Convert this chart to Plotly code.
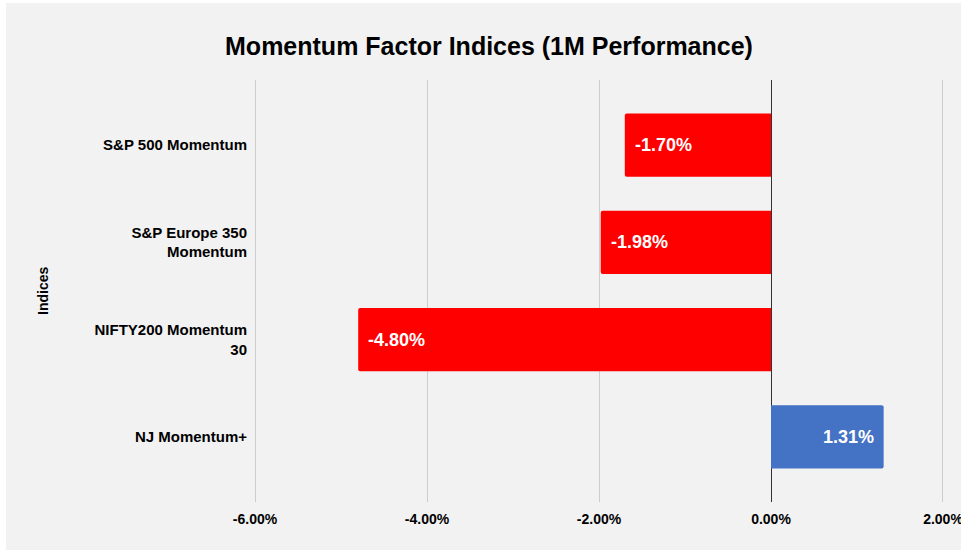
import plotly.graph_objects as go

categories = ["S&P 500 Momentum", "S&P Europe 350<br>Momentum", "NIFTY200 Momentum<br>30", "NJ Momentum+"]
values = [-1.70, -1.98, -4.80, 1.31]
bar_colors = ["#ff0000", "#ff0000", "#ff0000", "#4472c4"]
tick_vals = [-6, -4, -2, 0, 2]
tick_text = ["-6.00%", "-4.00%", "-2.00%", "0.00%", "2.00%"]

FONT = "Arial, Liberation Sans, sans-serif"
W, H = 961, 553
L, R, T, B = 252, 15, 80, 51
pw, ph = W - L - R, H - T - B
ypos = list(range(len(categories)))

fig = go.Figure(go.Bar(
    x=values, y=ypos, orientation="h",
    marker=dict(color=bar_colors, line=dict(width=0), cornerradius=2),
    width=0.65, hoverinfo="x+y",
))

# value labels inside the bars, at the far end
annotations = []
for v, yy in zip(values, ypos):
    annotations.append(dict(
        x=v, y=yy, xref="x", yref="y", text=f"<b>{v:.2f}%</b>", showarrow=False,
        xanchor="left" if v < 0 else "right", xshift=8 if v < 0 else -8,
        yanchor="middle", font=dict(family=FONT, size=18, color="white")))

annotations.append(dict(text="<b>Indices</b>", textangle=-90, xref="paper", yref="paper",
                        x=(43 - L) / pw, y=(T + ph - 291) / ph, xanchor="center", yanchor="middle",
                        showarrow=False, font=dict(size=14, color="#000", family=FONT)))

# grey card with thin white border
fig.add_shape(type="rect", xref="paper", yref="paper", layer="below",
              x0=(6 - L) / pw, x1=(W + 5 - L) / pw,
              y0=(T + ph - 550) / ph, y1=(T + ph - 3) / ph,
              fillcolor="#f2f2f2", line=dict(width=0))

fig.update_layout(
    width=W, height=H,
    margin=dict(l=L, r=R, t=T, b=B, autoexpand=False),
    paper_bgcolor="white", plot_bgcolor="rgba(0,0,0,0)",
    font=dict(family=FONT, color="#000"),
    title=dict(text="<b>Momentum Factor Indices (1M Performance)</b>",
               x=489 / W, xanchor="center", y=1 - 46 / H, yanchor="middle",
               font=dict(size=25, color="#000", family=FONT)),
    showlegend=False,
    xaxis=dict(range=[-6.035, 2.035], tickvals=tick_vals, ticktext=[f"<b>{t}</b>" for t in tick_text],
               showgrid=True, gridcolor="#cccccc", gridwidth=1,
               zeroline=True, zerolinecolor="#333333", zerolinewidth=1,
               showline=False, ticks="", tickfont=dict(size=14, color="#000"),
               ticklabelstandoff=7,
               ticklabeloverflow="allow", automargin=False, fixedrange=True),
    yaxis=dict(range=[3.67, -0.67], tickvals=ypos,
               ticktext=[f"<b>{c}</b>" for c in categories],
               showgrid=False, zeroline=False, showline=False, ticks="",
               tickfont=dict(size=15, color="#000"), ticklabelstandoff=4,
               automargin=False, fixedrange=True),
    annotations=annotations,
)

fig.write_html("out.html", config={"displayModeBar": False},
               post_script="document.body.style.margin='0';")
